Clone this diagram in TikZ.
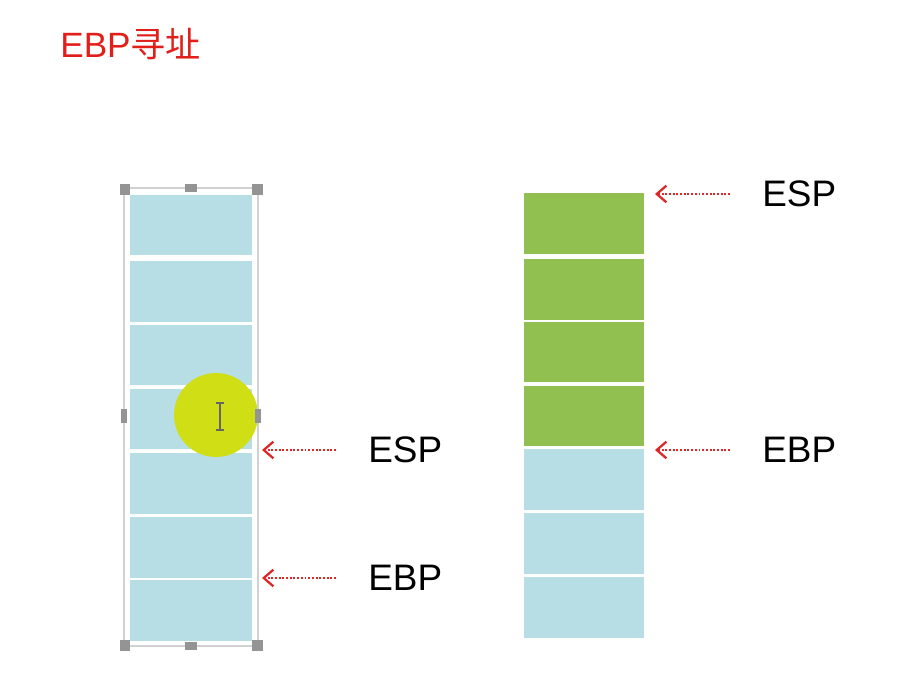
\documentclass[tikz,border=0pt]{standalone}
\usepackage{fontspec}
\setmainfont{Liberation Sans}
\newfontfamily\cjk{Noto Sans CJK SC}
\usepackage{xcolor}
\usetikzlibrary{arrows.meta,positioning}
\definecolor{cellblue}{RGB}{183,221,229}
\definecolor{cellgreen}{RGB}{146,192,80}
\definecolor{ptrred}{RGB}{222,40,40}
\definecolor{titlered}{RGB}{226,30,26}
\definecolor{hilite}{RGB}{208,222,22}
\tikzset{cb/.style={rectangle,fill=cellblue,minimum width=2.44cm,minimum height=1.22cm,inner sep=0pt},
  cg/.style={cb,fill=cellgreen},
  lab/.style={font=\fontsize{21}{25}\selectfont,inner sep=0pt,anchor=west},
  ptr/.style={ptrred,densely dotted,line width=1.1pt,shorten <=0.64cm,
    -{Straight Barb[length=5.5pt,width=9.5pt,line width=1.3pt]}},
  hd/.style={rectangle,fill=black!42,minimum size=0.22cm,inner sep=0pt},
  hdv/.style={hd,minimum width=0.13cm,minimum height=0.28cm},
  hdh/.style={hd,minimum width=0.26cm,minimum height=0.16cm}}

\begin{document}
\begin{tikzpicture}[x=0.02cm,y=-0.02cm]
        \useasboundingbox (0,0) rectangle (924,676);
        \node[anchor=base west,inner sep=0pt,text=titlered,font=\fontsize{20}{24}\selectfont] (title) at (60,57) {EBP{\cjk 寻址}};

        % left stack
        \node[cb] (l1) at (191,225) {};
        \node[cb] (l2) at (191,291.5) {};
        \node[cb] (l3) at (191,355) {};
        \node[cb] (l4) at (191,419) {};
        \node[cb] (l5) at (191,483.5) {};
        \node[cb] (l6) at (191,547.5) {};
        \node[cb] (l7) at (191,610.5) {};

        \fill[hilite] (216,415) circle (0.84cm);
        \draw[black!60,line width=0.8pt] (220,403) -- (220,430) (216,403) -- (224,403) (216,430) -- (224,430);

        \draw[black!18,line width=1pt] (124,188) rectangle (258,646);
        \node[hd] (h1) at (125,189) {};
        \node[hdh] (h2) at (191,188) {};
        \node[hd] (h3) at (257,189) {};
        \node[hdv] (h4) at (124,416) {};
        \node[hdv] (h5) at (258,416) {};
        \node[hd] (h6) at (125,645) {};
        \node[hdh] (h7) at (191,646) {};
        \node[hd] (h8) at (257,645) {};

        % right stack
        \node[cg,minimum width=2.4cm] (r1) at (584,223.5) {};
        \node[cg,minimum width=2.4cm] (r2) at (584,289.5) {};
        \node[cg,minimum width=2.4cm] (r3) at (584,352) {};
        \node[cg,minimum width=2.4cm] (r4) at (584,416) {};
        \node[cb,minimum width=2.4cm] (r5) at (584,479.5) {};
        \node[cb,minimum width=2.4cm] (r6) at (584,543.5) {};
        \node[cb,minimum width=2.4cm] (r7) at (584,607.5) {};

        \node[lab] (espl) at (368,450) {ESP};
        \node[lab] (ebpl) at (368,578) {EBP};
        \node[lab] (espr) at (762,194) {ESP};
        \node[lab] (ebpr) at (762,450) {EBP};

        \coordinate (ta) at (262,450);
        \coordinate (tb) at (262,578);
        \coordinate (tc) at (655,194);
        \coordinate (td) at (655,450);

        \draw [ptr] (espl.west) -- (ta);
        \draw [ptr] (ebpl.west) -- (tb);
        \draw [ptr] (espr.west) -- (tc);
        \draw [ptr] (ebpr.west) -- (td);
    \end{tikzpicture}
\end{document}
